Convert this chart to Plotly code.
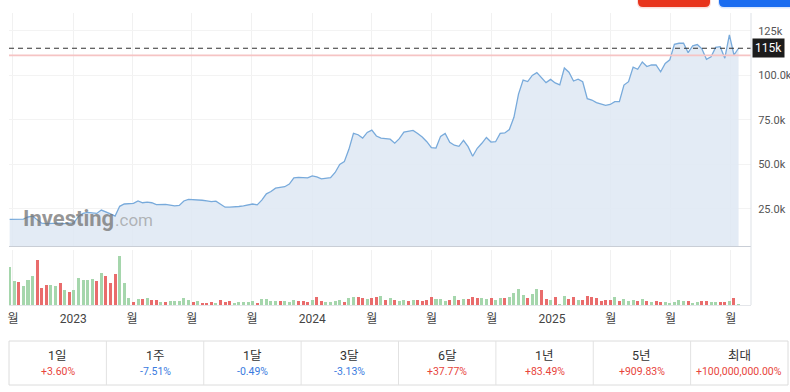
import plotly.graph_objects as go
import pandas as pd

# ---------------- data ----------------
start_week = "2022-09-26"
price_k = [
    19.2, 19.2, 19.2, 19.3, 20.5, 21.0, 19.0, 17.0, 16.8, 17.0,
    16.9, 17.0, 16.8, 16.9, 17.2, 20.8, 22.5, 23.1, 23.0, 22.5,
    24.4, 23.5, 22.2, 21.0, 26.5, 27.8, 28.2, 28.2, 29.5, 28.5,
    28.8, 28.5, 27.5, 27.6, 27.6, 27.2, 26.7, 27.0, 29.5, 30.4,
    30.3, 30.2, 29.9, 29.5, 29.1, 29.4, 27.5, 26.0, 26.0, 26.0,
    26.4, 26.8, 27.1, 27.8, 27.3, 30.0, 33.5, 34.8, 36.7, 36.9,
    37.5, 39.0, 42.5, 42.8, 42.6, 42.5, 43.6, 43.0, 41.9, 42.2,
    42.6, 45.5, 50.0, 51.6, 58.5, 67.5, 66.7, 64.8, 68.0, 69.3,
    66.0, 64.8, 64.4, 64.2, 62.0, 64.5, 68.2, 68.8, 69.1, 67.4,
    65.4, 62.8, 59.5, 59.2, 65.8, 67.4, 62.5, 60.8, 60.2, 63.5,
    60.0, 54.6, 59.1, 61.9, 65.2, 62.6, 62.8, 67.5, 67.7, 69.6,
    76.5, 89.5, 97.4, 96.6, 100.0, 101.6, 98.5, 96.0, 97.8, 95.8,
    94.7, 104.2, 101.8, 96.9, 97.9, 96.5, 87.0, 86.2, 84.8, 84.1,
    83.2, 83.7, 85.3, 85.3, 94.6, 96.5, 104.7, 103.5, 107.6, 105.0,
    105.9, 105.9, 102.1, 106.8, 108.8, 117.5, 118.1, 118.1, 112.8, 116.7,
    117.4, 115.0, 109.1, 110.5, 115.8, 116.2, 109.7, 122.8, 111.5, 115.3,
]
volume = [
    37.7, 24.3, 23.3, 19, 25, 29, 45, 17.3, 20, 20,
    19, 21.7, 15, 13.3, 15, 26.7, 25, 25, 25.7, 24.3,
    31.7, 29, 21.7, 30.7, 49.3, 21.7, 7.3, 3.3, 6, 6,
    6.7, 5, 5, 2.7, 3.3, 4, 4, 4, 6.7, 5,
    2.7, 4, 2.3, 2.3, 3.3, 2.3, 5, 3.3, 4, 2.3,
    3.3, 3.3, 3.3, 4, 2.3, 5.7, 5.7, 4, 4, 4,
    4, 3.3, 5, 4, 4, 3.3, 5, 8.3, 4, 3.3,
    3.3, 4, 5, 3.3, 6.7, 7.7, 8.3, 7.3, 6, 6.7,
    7.7, 9, 5, 7.3, 5, 4, 5, 4, 5, 5,
    4, 5, 7.7, 5.7, 5.7, 4, 5, 9, 5, 5.7,
    5.7, 7.7, 6.7, 6.7, 6, 6.7, 5, 7.3, 6.7, 8.3,
    12.3, 16, 10, 6.7, 11, 16, 15, 5.7, 5, 7.7,
    1, 9, 5.7, 8.3, 5, 5, 9, 7.7, 6.7, 4,
    5, 5, 8.3, 4, 5.7, 4, 5, 4, 6, 4,
    3.3, 4, 3.3, 3.3, 1.7, 3.3, 5, 4, 4, 2.3,
    3.3, 4, 4, 3.3, 3.3, 3.3, 3.3, 4, 6.7, 0.8,
]
week_up = [
    1, 1, 0, 1, 1, 1, 0, 0, 0, 1,
    1, 0, 1, 0, 1, 1, 1, 1, 1, 0,
    1, 0, 0, 0, 1, 1, 1, 0, 1, 0,
    1, 0, 0, 1, 0, 1, 1, 1, 1, 1,
    0, 1, 0, 0, 0, 1, 0, 0, 0, 1,
    1, 1, 1, 1, 0, 1, 1, 1, 1, 0,
    1, 1, 1, 0, 0, 0, 1, 0, 0, 1,
    1, 1, 1, 0, 1, 1, 0, 0, 1, 0,
    0, 1, 0, 1, 0, 1, 1, 0, 1, 0,
    0, 0, 0, 1, 1, 1, 0, 1, 0, 1,
    0, 0, 0, 1, 1, 0, 1, 1, 0, 1,
    1, 1, 1, 0, 1, 1, 0, 0, 1, 0,
    1, 1, 0, 0, 1, 0, 0, 0, 0, 0,
    0, 0, 1, 0, 1, 1, 1, 0, 1, 0,
    1, 0, 0, 1, 1, 1, 1, 1, 0, 1,
    1, 0, 0, 1, 1, 0, 0, 1, 0, 1,
]
current_price_k = 115.3
prev_close_k = 111.3
current_label = "115k"

y_tick_vals = [25, 50, 75, 100, 125]
y_tick_text = ["25.0k", "50.0k", "75.0k", "100.0k", "125k"]
x_tick_dates = ["2022-10-01", "2023-01-01", "2023-04-01", "2023-07-01", "2023-10-01",
                "2024-01-01", "2024-04-01", "2024-07-01", "2024-10-01",
                "2025-01-01", "2025-04-01", "2025-07-01", "2025-10-01"]
x_tick_text = ["월", "2023", "월", "월", "월", "2024", "월", "월", "월", "2025", "월", "월", "월"]

period_labels = ["1일", "1주", "1달", "3달", "6달", "1년", "5년", "최대"]
period_changes = ["+3.60%", "-7.51%", "-0.49%", "-3.13%", "+37.77%", "+83.49%", "+909.83%", "+100,000,000.00%"]

# ---------------- layout constants ----------------
W, H = 790, 392
ML, MR, MT, MB = 9, 39, 13, 87
PW, PH = W - ML - MR, H - MT - MB
FONT = "Roboto, 'Noto Sans CJK KR', sans-serif"


def px_x(x):
    return (x - ML) / PW


def px_y(y):
    return (H - MB - y) / PH


weeks = pd.date_range(start_week, periods=len(price_k), freq="7D")
bar_colors = ["rgb(165,214,172)" if u else "rgb(233,108,108)" for u in week_up]

fig = go.Figure()
fig.add_trace(go.Scatter(
    x=weeks, y=price_k, mode="lines",
    line=dict(color="#78aadb", width=1.3),
    fill="tozeroy", fillcolor="rgba(222,232,243,0.85)",
    xaxis="x", yaxis="y", hoverinfo="skip", showlegend=False,
))
fig.add_trace(go.Bar(
    x=weeks, y=volume, marker=dict(color=bar_colors, line=dict(width=0)),
    width=4.6 * 86400000, xaxis="x2", yaxis="y2", showlegend=False,
))

price_dom = [px_y(246), 1]
vol_dom = [0, px_y(250)]

fig.update_layout(
    width=W, height=H,
    margin=dict(l=ML, r=MR, t=MT, b=MB, autoexpand=False),
    paper_bgcolor="white", plot_bgcolor="white",
    font=dict(family=FONT, color="#444"),
    showlegend=False,
    xaxis=dict(domain=[0, 1], anchor="y", type="date", automargin=False,
               range=["2022-09-25", "2025-11-01"],
               tickvals=x_tick_dates, showticklabels=False,
               showgrid=True, gridcolor="#f1f1f1", gridwidth=1,
               showline=True, linecolor="#c9ced6", linewidth=1,
               zeroline=False, ticks=""),
    xaxis2=dict(domain=[0, 1], anchor="y2", type="date", matches="x", automargin=False,
                range=["2022-09-25", "2025-11-01"],
                tickvals=x_tick_dates, ticktext=x_tick_text,
                tickfont=dict(size=12, color="#444"),
                showgrid=True, gridcolor="#f1f1f1", gridwidth=1,
                showline=True, linecolor="#e4e6ea", linewidth=1,
                zeroline=False, ticks="outside", ticklen=3, tickcolor="rgba(0,0,0,0)"),
    yaxis=dict(domain=price_dom, anchor="x", side="right", automargin=False,
               range=[4.2, 135.1], tickvals=y_tick_vals, ticktext=y_tick_text,
               tickfont=dict(size=11, color="#555"),
               ticks="outside", ticklen=4, tickcolor="rgba(0,0,0,0)",
               showgrid=True, gridcolor="#f3f3f3", zeroline=False, showline=False),
    yaxis2=dict(domain=vol_dom, anchor="x2", side="right", automargin=False,
                range=[0, 55], showticklabels=False, showgrid=False,
                zeroline=False, showline=False),
    bargap=0,
)

shapes = []
# previous close line
shapes.append(dict(type="line", xref="paper", yref="y", x0=0, x1=1,
                   y0=prev_close_k, y1=prev_close_k,
                   line=dict(color="#f6c4c4", width=1.6)))
# current price dashed line
shapes.append(dict(type="line", xref="paper", yref="y", x0=0, x1=1,
                   y0=current_price_k, y1=current_price_k,
                   line=dict(color="#333333", width=1.2, dash="5px,4px")))
# right axis vertical line
shapes.append(dict(type="line", xref="paper", yref="paper", x0=1, x1=1,
                   y0=px_y(305), y1=px_y(13),
                   line=dict(color="#dde1e6", width=1)))


def rounded_rect(x0, y0, x1, y1, r=5):
    X = lambda v: px_x(v)
    Y = lambda v: px_y(v)
    return (f"M {X(x0)},{Y(y0)} L {X(x1)},{Y(y0)} L {X(x1)},{Y(y1 - r)} "
            f"Q {X(x1)},{Y(y1)} {X(x1 - r)},{Y(y1)} L {X(x0 + r)},{Y(y1)} "
            f"Q {X(x0)},{Y(y1)} {X(x0)},{Y(y1 - r)} Z")


# top buttons (cropped)
shapes.append(dict(type="path", xref="paper", yref="paper",
                   path=rounded_rect(637, -4, 711, 8.5, 6), fillcolor="rgba(232,52,28,0.16)",
                   line=dict(width=0)))
shapes.append(dict(type="path", xref="paper", yref="paper",
                   path=rounded_rect(638, -4, 710, 7, 5), fillcolor="#e8341c",
                   line=dict(width=0)))
shapes.append(dict(type="path", xref="paper", yref="paper",
                   path=rounded_rect(718, -4, 800, 8.5, 6), fillcolor="rgba(26,108,240,0.16)",
                   line=dict(width=0)))
shapes.append(dict(type="path", xref="paper", yref="paper",
                   path=rounded_rect(719, -4, 800, 7, 5), fillcolor="#1a6cf0",
                   line=dict(width=0)))

# table
tx0, tx1, ty0, ty1 = 9, 788, 341, 385
n = len(period_labels)
cw = (tx1 - tx0) / n
shapes.append(dict(type="rect", xref="paper", yref="paper",
                   x0=px_x(tx0), x1=px_x(tx1), y0=px_y(ty1), y1=px_y(ty0),
                   line=dict(color="#dcdcdc", width=1), fillcolor="rgba(0,0,0,0)"))
for i in range(1, n):
    xx = px_x(tx0 + i * cw)
    shapes.append(dict(type="line", xref="paper", yref="paper", x0=xx, x1=xx,
                       y0=px_y(ty1), y1=px_y(ty0),
                       line=dict(color="#e2e2e2", width=1)))

annotations = []
annotations.append(dict(xref="paper", yref="y", x=1, y=current_price_k,
                        xanchor="left", yanchor="middle", xshift=1,
                        text=current_label, showarrow=False,
                        font=dict(size=12, color="white", family=FONT),
                        bgcolor="#1c1c1c", borderpad=2))
# watermark
annotations.append(dict(xref="paper", yref="paper", x=px_x(21), y=px_y(218),
                        xanchor="left", yanchor="middle", text="<b>Investing</b>",
                        showarrow=False,
                        font=dict(size=22, color="rgba(115,115,115,0.75)", family="Roboto")))
annotations.append(dict(xref="paper", yref="paper", x=px_x(113), y=px_y(219.5),
                        xanchor="left", yanchor="middle", text=".com",
                        showarrow=False,
                        font=dict(size=17, color="rgba(140,140,140,0.6)", family="Roboto")))
for i, (lab, chg) in enumerate(zip(period_labels, period_changes)):
    cx = px_x(tx0 + (i + 0.5) * cw)
    col = "#e8453c" if chg.startswith("+") else "#3a7be0"
    annotations.append(dict(xref="paper", yref="paper", x=cx, y=px_y(355),
                            xanchor="center", yanchor="middle", text=lab, showarrow=False,
                            font=dict(size=12.5, color="#333", family=FONT)))
    annotations.append(dict(xref="paper", yref="paper", x=cx, y=px_y(371),
                            xanchor="center", yanchor="middle", text=chg, showarrow=False,
                            font=dict(size=10.5, color=col, family=FONT)))

fig.update_layout(shapes=shapes, annotations=annotations)
fig.write_html("out.html", config={"displayModeBar": False},
               post_script="document.body.style.margin='0';document.body.style.overflow='hidden';")
